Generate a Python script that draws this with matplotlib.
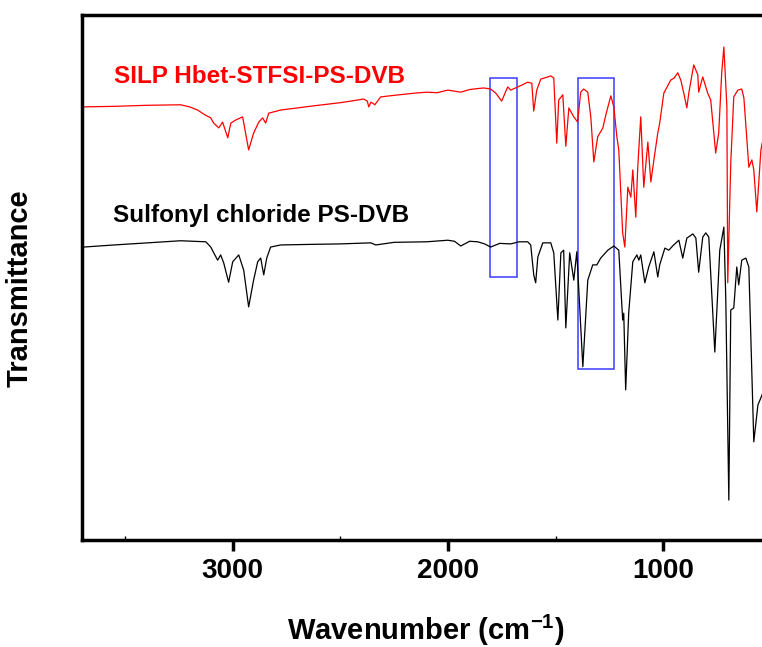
import matplotlib
matplotlib.use("Agg")
import matplotlib.pyplot as plt
from matplotlib.patches import Rectangle

plt.rcParams['font.family'] = ['Liberation Sans', 'DejaVu Sans']
plt.rcParams['font.weight'] = 'bold'
plt.rcParams['mathtext.fontset'] = 'custom'
plt.rcParams['mathtext.rm'] = 'Liberation Sans:bold'
plt.rcParams['mathtext.bf'] = 'Liberation Sans:bold'

# SILP Hbet-STFSI-PS-DVB
silp_wn = [3692, 3550, 3400, 3242, 3200, 3163, 3130, 3102, 3088, 3065, 3047, 3023,
           3009, 2986, 2954, 2926, 2903, 2879, 2861, 2847, 2833, 2777, 2700, 2624,
           2500, 2420, 2392, 2375, 2368, 2358, 2350, 2340, 2313, 2250, 2159, 2100,
           2050, 2001, 1970, 1941, 1900, 1860, 1834, 1802, 1778, 1751, 1723, 1709,
           1676, 1630, 1611, 1602, 1588, 1569, 1537, 1523, 1509, 1495, 1486, 1467,
           1453, 1439, 1416, 1398, 1384, 1370, 1351, 1337, 1323, 1305, 1281, 1267,
           1244, 1230, 1216, 1207, 1189, 1179, 1165, 1151, 1142, 1128, 1119, 1105,
           1091, 1072, 1058, 1044, 1026, 1017, 998, 966, 950, 933, 919, 905, 891,
           882, 859, 840, 836, 817, 794, 780, 757, 743, 729, 719, 705, 701, 687,
           673, 654, 636, 626, 603, 589, 580, 566, 547, 538]
silp_t = [82.5, 82.6, 82.8, 82.9, 82.5, 81.9, 81.0, 80.4, 79.4, 78.5, 79.6, 76.6,
          79.4, 80.0, 80.6, 74.3, 77.5, 79.6, 80.4, 79.4, 81.3, 81.9, 82.3, 82.7,
          83.3, 83.8, 84.0, 83.6, 82.5, 83.4, 83.2, 82.9, 84.4, 84.7, 85.1, 85.3,
          85.2, 85.7, 85.5, 85.3, 85.8, 86.0, 86.1, 85.9, 85.1, 83.6, 86.3, 85.7,
          86.3, 87.2, 87.0, 81.7, 85.7, 87.8, 88.2, 88.4, 88.0, 75.6, 83.8, 84.8,
          75.0, 82.3, 80.6, 79.6, 85.3, 85.9, 85.3, 80.6, 72.0, 76.8, 78.5, 81.0,
          84.6, 82.5, 76.8, 74.3, 58.5, 55.8, 67.2, 65.3, 70.5, 61.5, 71.0, 80.6,
          67.2, 75.8, 68.2, 72.4, 77.5, 79.4, 85.1, 87.6, 88.0, 89.0, 87.6, 85.1,
          82.3, 85.1, 90.5, 88.6, 85.3, 88.2, 85.1, 83.8, 73.7, 77.5, 89.0, 93.9,
          82.5, 49.0, 71.8, 84.4, 85.7, 85.9, 84.2, 71.0, 72.4, 70.5, 62.5, 74.3,
          76.2]

# Sulfonyl chloride PS-DVB
sulf_wn = [3692, 3550, 3395, 3242, 3125, 3102, 3088, 3070, 3056, 3042, 3019, 3000,
           2972, 2949, 2926, 2903, 2884, 2870, 2856, 2842, 2824, 2777, 2650, 2500,
           2359, 2336, 2250, 2100, 2001, 1970, 1941, 1900, 1862, 1830, 1802, 1760,
           1709, 1670, 1630, 1616, 1602, 1593, 1583, 1560, 1523, 1509, 1490, 1476,
           1463, 1453, 1435, 1416, 1402, 1374, 1351, 1328, 1309, 1291, 1258, 1230,
           1207, 1189, 1184, 1175, 1161, 1142, 1123, 1114, 1105, 1086, 1068, 1044,
           1026, 1017, 993, 975, 952, 928, 910, 891, 863, 849, 836, 817, 803, 789,
           761, 738, 719, 710, 696, 687, 673, 659, 650, 636, 617, 603, 580, 561,
           538]
sulf_t = [55.8, 56.2, 56.6, 57.0, 56.8, 55.8, 54.7, 53.3, 54.3, 52.8, 49.1, 53.0,
          54.3, 51.4, 44.4, 49.5, 53.0, 53.7, 50.5, 53.7, 55.8, 56.2, 56.3, 56.4,
          56.6, 56.2, 56.7, 56.8, 57.1, 56.9, 56.0, 56.9, 56.8, 56.4, 55.8, 56.5,
          56.4, 56.8, 56.8, 56.2, 50.5, 49.0, 53.9, 56.6, 56.6, 54.7, 41.9, 54.7,
          55.2, 40.4, 54.7, 49.5, 54.9, 33.0, 49.5, 52.4, 52.4, 53.7, 55.2, 56.0,
          55.2, 41.9, 43.2, 28.6, 43.2, 53.0, 54.3, 53.3, 54.3, 49.0, 52.0, 54.9,
          50.1, 52.4, 55.6, 55.2, 56.2, 57.1, 53.7, 57.5, 58.3, 57.5, 51.0, 57.7,
          58.5, 57.7, 35.8, 55.2, 59.6, 45.7, 7.6, 43.8, 44.2, 52.0, 48.6, 53.3,
          53.7, 52.0, 18.7, 25.7, 28.0]

# highlighted regions: (high wn, low wn, bottom T, top T)
boxes = [(1805, 1681, 50.1, 88.0), (1396, 1227, 32.6, 88.0)]

fig = plt.figure(figsize=(7.62, 6.47), dpi=100)
ax = fig.add_axes([0.1076, 0.1654, 0.9325, 0.8114])

ax.plot(silp_wn, silp_t, color='red', lw=0.9)
ax.plot(sulf_wn, sulf_t, color='black', lw=0.9)

for hi, lo, bot, top in boxes:
    ax.add_patch(Rectangle((lo, bot), hi - lo, top - bot, fill=False,
                           edgecolor='#3a3aff', lw=1.1))

ax.text(3553, 88.2, 'SILP Hbet-STFSI-PS-DVB', color='red', fontsize=17.5,
        fontweight='bold', va='center', ha='left')
ax.text(3557, 61.9, 'Sulfonyl chloride PS-DVB', color='black', fontsize=17.5,
        fontweight='bold', va='center', ha='left')

ax.set_xlim(3700, 400)
ax.set_ylim(0, 100)
ax.set_xticks([3000, 2000, 1000])
ax.set_xticks([3500, 2500, 1500], minor=True)
ax.set_yticks([])
ax.tick_params(axis='x', which='major', direction='out', length=8, width=2.5,
               labelsize=20, pad=5)
ax.tick_params(axis='x', which='minor', direction='in', length=3, width=1)
for lab in ax.get_xticklabels():
    lab.set_fontweight('bold')
for sp in ax.spines.values():
    sp.set_linewidth(2.5)

ax.set_xlabel('Wavenumber (cm$^{-1}$)', fontsize=21, fontweight='bold')
ax.xaxis.set_label_coords(0.484, -0.139)
ax.set_ylabel('Transmittance', fontsize=21, fontweight='bold')
ax.yaxis.set_label_coords(-0.068, 0.48)

fig.savefig('out.png', dpi=100)
